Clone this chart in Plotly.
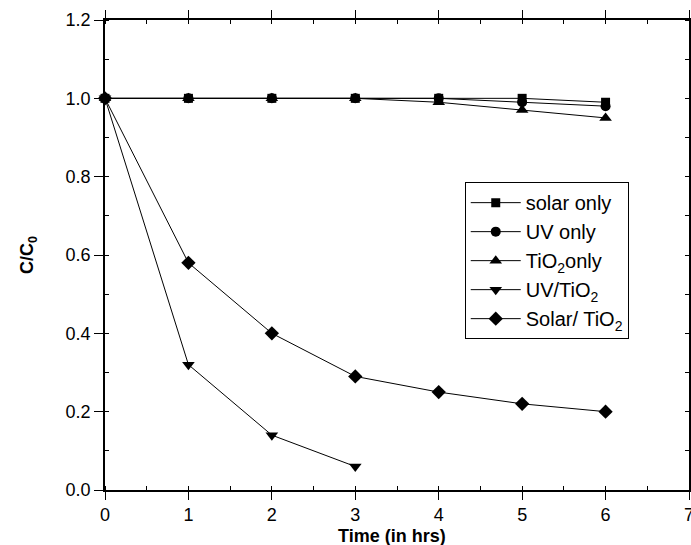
import plotly.graph_objects as go

time = [0, 1, 2, 3, 4, 5, 6]
time_uvtio2 = [0, 1, 2, 3]
solar_only = [1.0, 1.0, 1.0, 1.0, 1.0, 1.0, 0.99]
uv_only = [1.0, 1.0, 1.0, 1.0, 1.0, 0.99, 0.98]
tio2_only = [1.0, 1.0, 1.0, 1.0, 0.99, 0.97, 0.95]
uv_tio2 = [1.0, 0.32, 0.14, 0.06]
solar_tio2 = [1.0, 0.58, 0.40, 0.29, 0.25, 0.22, 0.20]

series = [
    ("solar only", time, solar_only, "square", 9),
    ("UV only", time, uv_only, "circle", 10),
    ("TiO<sub>2</sub>only", time, tio2_only, "triangle-up", 11),
    ("UV/TiO<sub>2</sub>", time_uvtio2, uv_tio2, "triangle-down", 11),
    ("Solar/ TiO<sub>2</sub>", time, solar_tio2, "diamond", 11),
]

fig = go.Figure()
for name, x, y, sym, sz in series:
    fig.add_trace(go.Scatter(
        x=x, y=y, name=name, mode="lines+markers",
        line=dict(color="black", width=1),
        marker=dict(symbol=sym, size=sz, color="black"),
        cliponaxis=False,
    ))

font = "Liberation Sans, Arial, sans-serif"
fig.update_layout(
    width=691, height=545,
    margin=dict(l=105, r=2, t=20, b=55),
    paper_bgcolor="white", plot_bgcolor="white",
    font=dict(family=font, size=18, color="black"),
    showlegend=True,
    legend=dict(
        x=0.616, y=0.655, xanchor="left", yanchor="top",
        bordercolor="black", borderwidth=1, bgcolor="white",
        font=dict(size=20), tracegroupgap=0, itemwidth=50,
    ),
    xaxis=dict(
        range=[0, 7], dtick=1, showline=True, linecolor="black", linewidth=1.5,
        mirror="ticks", ticks="outside", ticklen=8, tickcolor="black",
        showgrid=False, zeroline=False, automargin=False, ticklabeloverflow="allow",
        minor=dict(dtick=0.5, ticks="inside", ticklen=4, tickcolor="black", showgrid=False),
    ),
    yaxis=dict(
        range=[0, 1.2], dtick=0.2, tickformat=".1f", showline=True, linecolor="black", linewidth=1.5,
        mirror="ticks", ticks="outside", ticklen=9, tickcolor="black",
        showgrid=False, zeroline=False, automargin=False, ticklabeloverflow="allow",
        minor=dict(dtick=0.1, ticks="inside", ticklen=4, tickcolor="black", showgrid=False),
        title=dict(text="<b>C/C<sub>0</sub></b>", standoff=27, font=dict(size=18)),
    ),
    annotations=[dict(
        text="<b>Time (in hrs)</b>", xref="paper", yref="paper",
        x=0.491, y=-0.097, xanchor="center", yanchor="middle",
        showarrow=False, font=dict(size=18), borderpad=0,
    )],
)

fig.write_html("out.html")
